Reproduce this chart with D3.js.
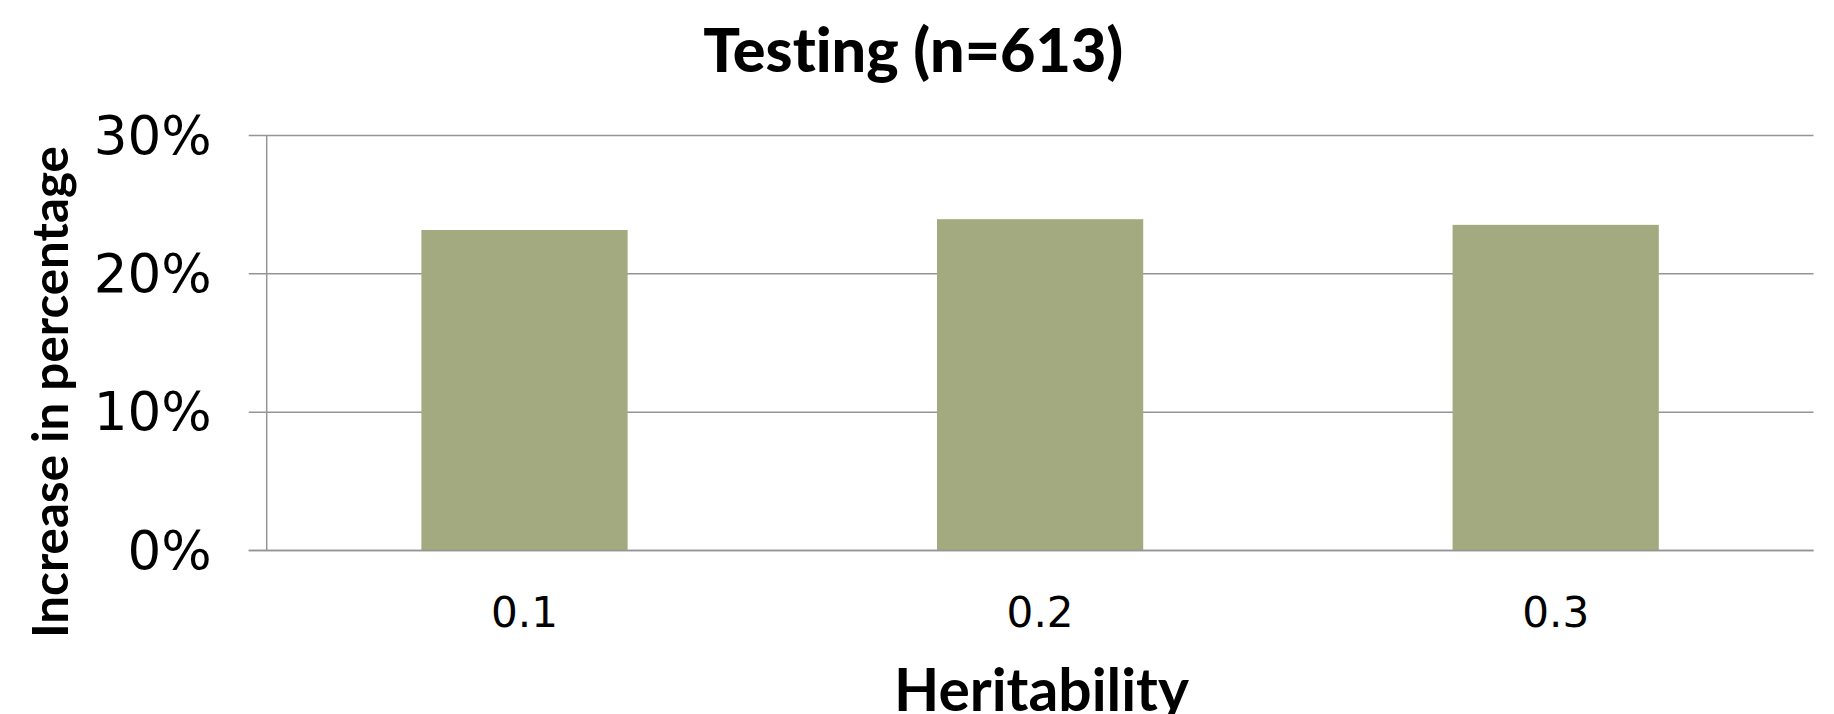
<!DOCTYPE html>
<html>
<head>
<meta charset="utf-8">
<script src="https://cdn.jsdelivr.net/npm/d3@7"></script>
<style>
  html, body { margin: 0; padding: 0; background: #fff; }
  svg { display: block; }
  text { font-variant-ligatures: none; font-feature-settings: "liga" 0; }
</style>
</head>
<body>
<svg id="chart" width="1834" height="714"></svg>
<script>
const categories = ["0.1", "0.2", "0.3"];
const values = [0.2317, 0.2395, 0.2354];
const yTickValues = [0, 0.1, 0.2, 0.3];
const titleText = "Testing (n=613)";
const xTitleText = "Heritability";
const yTitleText = "Increase in percentage";

const W = 1834, H = 714;
const plot = { left: 266.7, right: 1813.5, top: 135.5, bottom: 550.5 };
const svg = d3.select("#chart");

const x = d3.scaleBand().domain(categories)
  .range([plot.left, plot.right]).paddingInner(0.6).paddingOuter(0.3);
const y = d3.scaleLinear().domain([0, 0.3]).range([plot.bottom, plot.top]);

const gridColor = "#959595";
const tickOut = 18;

// fit text to a target width
function fit(sel, target) {
  const node = sel.node();
  const fs = parseFloat(sel.attr("font-size"));
  const w = node.getComputedTextLength();
  sel.attr("font-size", (fs * target / w).toFixed(2));
  return sel;
}

// gridlines
svg.append("g")
  .selectAll("line").data(yTickValues).join("line")
  .attr("x1", plot.left - tickOut).attr("x2", plot.right)
  .attr("y1", d => y(d)).attr("y2", d => y(d))
  .attr("stroke", gridColor).attr("stroke-width", 1.5);

// bars
svg.append("g")
  .selectAll("rect").data(values).join("rect")
  .attr("x", (d, i) => x(categories[i]))
  .attr("width", x.bandwidth())
  .attr("y", d => y(d))
  .attr("height", d => y(0) - y(d))
  .attr("fill", "#A4AA80");

// vertical axis line
svg.append("line")
  .attr("x1", plot.left).attr("x2", plot.left)
  .attr("y1", y(0.3)).attr("y2", y(0))
  .attr("stroke", gridColor).attr("stroke-width", 1.5);
// baseline on top
svg.append("line")
  .attr("x1", plot.left - tickOut).attr("x2", plot.right)
  .attr("y1", y(0)).attr("y2", y(0))
  .attr("stroke", gridColor).attr("stroke-width", 1.5);

// y tick labels
const fmt = d3.format(".0%");
const yl = svg.append("g").selectAll("text").data(yTickValues).join("text")
  .attr("x", 211.7).attr("y", d => y(d))
  .attr("text-anchor", "end").attr("dominant-baseline", "central")
  .attr("font-family", "'DejaVu Sans', sans-serif")
  .attr("font-size", 50).attr("fill", "#000")
  .text(d => fmt(d));
{
  const n = yl.filter(d => d === 0.3);
  const w = n.node().getComputedTextLength();
  const fs = 50 * 118 / w;
  yl.attr("font-size", fs.toFixed(2));
}

// x tick labels
const xl = svg.append("g").selectAll("text").data(categories).join("text")
  .attr("x", d => x(d) + x.bandwidth() / 2).attr("y", 627)
  .attr("text-anchor", "middle")
  .attr("font-family", "'DejaVu Sans', sans-serif")
  .attr("font-size", 40).attr("fill", "#000")
  .text(d => d);
{
  const w = xl.filter((d, i) => i === 1).node().getComputedTextLength();
  xl.attr("font-size", (40 * 67 / w).toFixed(2));
}

// title
fit(svg.append("text")
  .attr("x", 913.3).attr("y", 71.7).attr("text-anchor", "middle")
  .attr("font-family", "Lato, sans-serif").attr("font-weight", "900")
  .attr("font-size", 50).attr("fill", "#000")
  .text(titleText), 420);

// x axis title
fit(svg.append("text")
  .attr("x", 1041.5).attr("y", 710.5).attr("text-anchor", "middle")
  .attr("font-family", "Lato, sans-serif").attr("font-weight", "bold")
  .attr("font-size", 50).attr("fill", "#000")
  .text(xTitleText), 295);

// y axis title
fit(svg.append("text")
  .attr("transform", "translate(68,392) rotate(-90)")
  .attr("text-anchor", "middle")
  .attr("font-family", "Lato, sans-serif").attr("font-weight", "bold")
  .attr("font-size", 40).attr("fill", "#000")
  .text(yTitleText), 492);
</script>
</body>
</html>
